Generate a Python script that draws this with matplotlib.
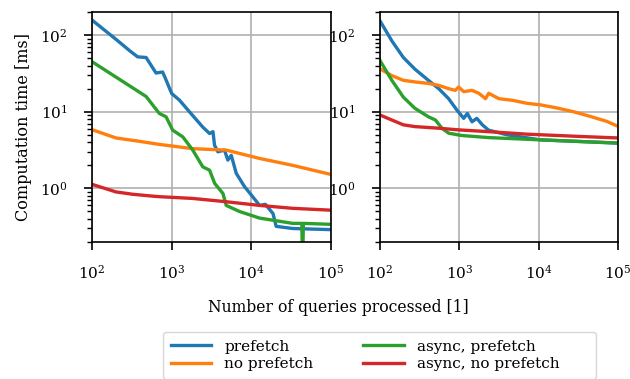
import matplotlib
matplotlib.use("Agg")
import matplotlib.pyplot as plt
from matplotlib import ticker

plt.rcParams['font.family'] = ['DejaVu Serif']
plt.rcParams['mathtext.fontset'] = 'stix'
plt.rcParams['font.size'] = 11

# left panel
l_pre_x = [100, 200, 300, 374, 478, 636, 770, 850, 1000, 1250, 1670, 2460, 2990, 3300, 3450, 3800, 4600,
           5070, 5600, 6470, 8240, 10000, 12700, 15000, 18700, 20500, 33000, 100000]
l_pre_y = [157, 88, 62, 52, 51, 32, 33, 26, 17.3, 14.2, 10, 6.3, 5.2, 5.5, 3.67, 3.0, 3.16,
           2.34, 2.7, 1.57, 1.05, 0.82, 0.6, 0.62, 0.47, 0.32, 0.30, 0.29]
l_nopre_x = [100, 200, 390, 700, 1840, 4840, 12700, 33000, 100000]
l_nopre_y = [5.84, 4.55, 4.12, 3.75, 3.3, 3.16, 2.46, 2.0, 1.52]
l_apre_x = [100, 478, 700, 850, 1030, 1380, 1840, 2460, 2990, 3470, 4400, 4840, 7100, 12700, 33000,
            43000, 44000, 45000, 100000]
l_apre_y = [45, 15.8, 9.5, 8.6, 5.75, 4.7, 3.16, 1.91, 1.73, 1.16, 0.86, 0.6, 0.5, 0.41, 0.35,
            0.35, 0.1, 0.35, 0.34]
l_anopre_x = [100, 200, 320, 525, 700, 1840, 4840, 12700, 33000, 100000]
l_anopre_y = [1.13, 0.9, 0.84, 0.8, 0.78, 0.74, 0.67, 0.6, 0.55, 0.52]

# right panel
r_pre_x = [100, 141, 197, 275, 407, 550, 733, 933, 1135, 1260, 1445, 1660, 1950, 2340, 4000, 10500, 100000]
r_pre_y = [153, 84, 51, 36, 25.7, 20, 14.8, 10.5, 8.2, 9.5, 7.4, 8.2, 6.75, 5.75, 5.0, 4.3, 3.9]
r_nopre_x = [100, 141, 197, 275, 407, 550, 733, 890, 980, 1135, 1445, 1760, 2140, 2340, 3160, 4680,
             7080, 10500, 17000, 27500, 44600, 72000, 100000]
r_nopre_y = [36.3, 29.6, 25.7, 24.5, 23.4, 22.1, 20, 19, 21, 18.3, 19, 17.4, 14.8, 17.4, 14.8, 14.1,
             12.9, 12.3, 11.2, 10, 8.7, 7.5, 6.45]
r_apre_x = [100, 141, 197, 275, 407, 500, 603, 733, 1070, 2340, 10500, 100000]
r_apre_y = [46.5, 25.7, 15.5, 11.1, 8.6, 7.8, 6.1, 5.25, 4.9, 4.6, 4.3, 3.9]
r_anopre_x = [100, 141, 197, 275, 550, 980, 2340, 7080, 27500, 100000]
r_anopre_y = [9.06, 7.8, 6.75, 6.4, 6.1, 5.8, 5.5, 5.1, 4.8, 4.55]

labels = ["prefetch", "no prefetch", "async, prefetch", "async, no prefetch"]
colors = ["tab:blue", "tab:orange", "tab:green", "tab:red"]

fig = plt.figure(figsize=(6.3, 3.79), dpi=100)
ax1 = fig.add_axes([92/630, 1-242/379, 239/630, 230/379])
ax2 = fig.add_axes([380/630, 1-242/379, 238/630, 230/379])

left = [(l_pre_x, l_pre_y), (l_nopre_x, l_nopre_y), (l_apre_x, l_apre_y), (l_anopre_x, l_anopre_y)]
right = [(r_pre_x, r_pre_y), (r_nopre_x, r_nopre_y), (r_apre_x, r_apre_y), (r_anopre_x, r_anopre_y)]

handles = []
for (x, y), c, lab in zip(left, colors, labels):
    h, = ax1.plot(x, y, color=c, lw=2.4, label=lab)
    handles.append(h)
for (x, y), c in zip(right, colors):
    ax2.plot(x, y, color=c, lw=2.4)

for ax in (ax1, ax2):
    ax.set_xscale("log")
    ax.set_yscale("log")
    ax.set_xlim(100, 1e5)
    ax.set_ylim(0.2, 200)
    ax.grid(True, which="major", color="#b0b0b0", lw=1.2)
    ax.xaxis.set_minor_locator(ticker.NullLocator())
    ax.yaxis.set_minor_locator(ticker.LogLocator(base=10, subs=range(2, 10), numticks=20))
    ax.yaxis.set_minor_formatter(ticker.NullFormatter())
    ax.tick_params(axis="x", which="major", length=6, width=1.2, pad=10, labelsize=11)
    ax.tick_params(axis="y", which="major", length=6, width=1.2, pad=11.5, labelsize=11)
    ax.tick_params(axis="y", which="minor", length=3.5, width=1)
    for s in ax.spines.values():
        s.set_linewidth(1.2)

ax1.set_ylabel("Computation time [ms]", fontsize=11.5, labelpad=6)
fig.text(338/630, 1-307/379, "Number of queries processed [1]", fontsize=11.25, ha="center", va="center")

# trailing no-break spaces widen the frame on the right like in the original
leg_labels = labels[:3] + [labels[3] + "\u00a0" * 6]
fig.legend(handles, leg_labels, ncol=2, loc="upper left", bbox_to_anchor=(163/630, 1-332/379),
           borderaxespad=0, labelspacing=0.24, columnspacing=3.24, handlelength=2.66,
           handletextpad=0.85, borderpad=0.5, fontsize=11)

fig.savefig("out.png", dpi=100)
